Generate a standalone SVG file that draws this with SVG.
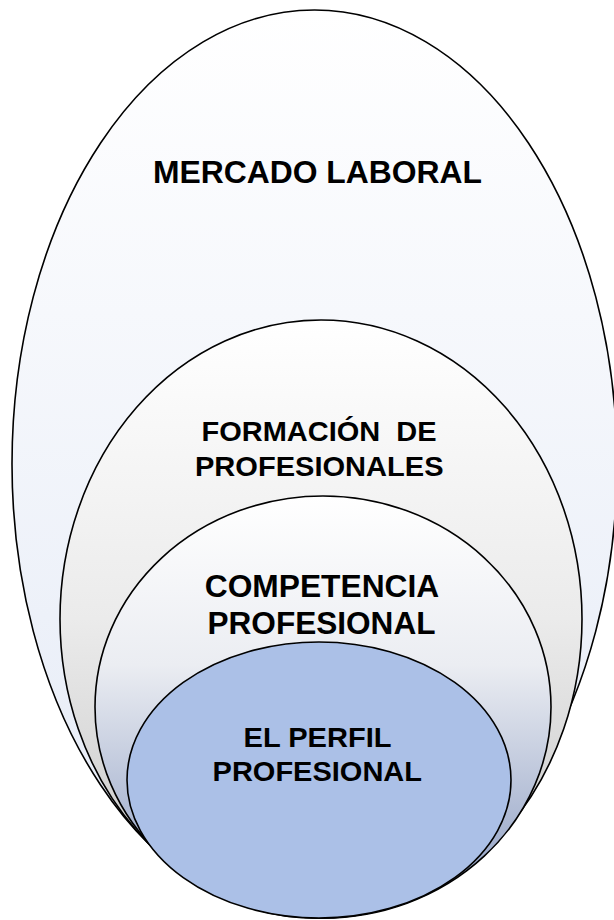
<svg xmlns="http://www.w3.org/2000/svg" width="614" height="920" viewBox="0 0 614 920">
<style>
.e{stroke:#000;stroke-width:1.6}
.t{font-family:"Liberation Sans",Arial,sans-serif;font-weight:bold;fill:#000;text-anchor:middle}
</style>
<defs>
<linearGradient id="g1" x1="0" y1="0" x2="0" y2="1">
<stop offset="0" stop-color="#FFFFFF"/>
<stop offset="1" stop-color="#E4EAF6"/>
</linearGradient>
<linearGradient id="g2" x1="0" y1="0" x2="0" y2="1">
<stop offset="0" stop-color="#FFFFFF"/>
<stop offset="0.5" stop-color="#EBEBEB"/>
<stop offset="1" stop-color="#C4C4C4"/>
</linearGradient>
<linearGradient id="g3" x1="0" y1="0" x2="0" y2="1">
<stop offset="0" stop-color="#FFFFFF"/>
<stop offset="0.4" stop-color="#EBEDF2"/>
<stop offset="1" stop-color="#8597BF"/>
</linearGradient>
</defs>
<rect width="614" height="920" fill="#FFFFFF"/>
<g id="mercado">
<ellipse class="e" cx="314.5" cy="464" rx="302.5" ry="454" fill="url(#g1)"/>
<text class="t" x="317.5" y="183" font-size="31.5" textLength="329" lengthAdjust="spacingAndGlyphs">MERCADO LABORAL</text>
</g>
<g id="formacion">
<ellipse class="e" cx="321" cy="619" rx="261" ry="299" fill="url(#g2)"/>
<text class="t" x="319" y="441" font-size="28.5" textLength="235" lengthAdjust="spacingAndGlyphs" xml:space="preserve">FORMACIÓN  DE</text>
<text class="t" x="319.3" y="476" font-size="28.5" textLength="248.6" lengthAdjust="spacingAndGlyphs">PROFESIONALES</text>
</g>
<g id="competencia">
<ellipse class="e" cx="323" cy="707" rx="228" ry="211" fill="url(#g3)"/>
<text class="t" x="322" y="597" font-size="30.5" textLength="234.5" lengthAdjust="spacingAndGlyphs">COMPETENCIA</text>
<text class="t" x="321.5" y="633.5" font-size="30.5" textLength="228" lengthAdjust="spacingAndGlyphs">PROFESIONAL</text>
</g>
<g id="perfil">
<ellipse class="e" cx="319" cy="780" rx="192" ry="138" fill="#ABC0E7"/>
<text class="t" x="317.5" y="747" font-size="28.5" textLength="148" lengthAdjust="spacingAndGlyphs">EL PERFIL</text>
<text class="t" x="317.3" y="781" font-size="28.5" textLength="209.4" lengthAdjust="spacingAndGlyphs">PROFESIONAL</text>
</g>
<g id="connectors"/>
</svg>
